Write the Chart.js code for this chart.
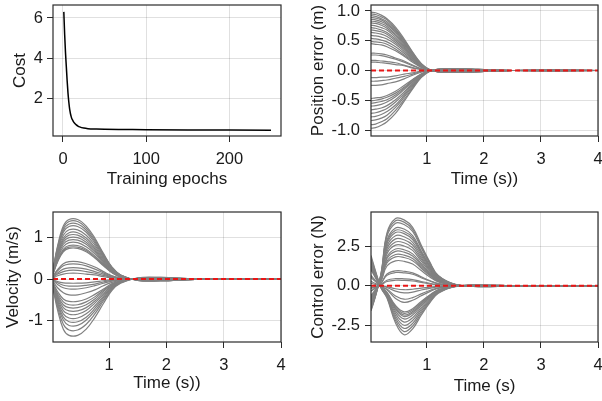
<!DOCTYPE html>
<html>
<head>
<meta charset="utf-8">
<script src="https://cdn.jsdelivr.net/npm/chart.js@4/dist/chart.umd.min.js"></script>
<style>
  html, body { margin: 0; padding: 0; background: #fff; }
  #wrap { position: relative; width: 602px; height: 401px; overflow: hidden; }
  canvas { position: absolute; }
</style>
</head>
<body>
<div id="wrap">
  <canvas id="cCost" width="300" height="200" style="left:0;top:0;width:300px;height:200px"></canvas>
  <canvas id="cPos" width="302" height="200" style="left:300px;top:0;width:302px;height:200px"></canvas>
  <canvas id="cVel" width="300" height="201" style="left:0;top:200px;width:300px;height:201px"></canvas>
  <canvas id="cCtrl" width="302" height="201" style="left:300px;top:200px;width:302px;height:201px"></canvas>
</div>
<script>
// training cost
const epochs = [1, 2, 3, 4, 5, 6, 7, 8, 10, 12, 14, 16, 18, 20, 25, 30, 40, 50, 75, 100, 150, 200, 250];
const cost = [6.3, 5.2, 4.3, 3.6, 2.9, 2.3, 1.85, 1.5, 1.1, 0.92, 0.8, 0.72, 0.66, 0.62, 0.56, 0.53, 0.51, 0.5, 0.49, 0.48, 0.47, 0.465, 0.46];

// sample times (s) shared by the three trajectory panels
const timeS = [0.02, 0.1, 0.2, 0.3, 0.45, 0.6, 0.75, 0.9, 1.05, 1.2, 1.5, 1.9, 2.5, 4.0];

// position error (m), one row per trajectory
const posTraces = [
  [0.98, 0.97, 0.93, 0.87, 0.73, 0.53, 0.31, 0.12, 0.01, -0.02, -0.03, -0.02, 0, 0],
  [0.95, 0.94, 0.90, 0.85, 0.70, 0.51, 0.30, 0.11, 0.01, -0.02, -0.03, -0.02, 0, 0],
  [0.92, 0.91, 0.87, 0.82, 0.68, 0.50, 0.29, 0.11, 0.01, -0.02, -0.03, -0.02, 0, 0],
  [0.89, 0.88, 0.85, 0.79, 0.66, 0.48, 0.28, 0.11, 0.01, -0.02, -0.03, -0.02, 0, 0],
  [0.86, 0.85, 0.82, 0.77, 0.64, 0.46, 0.28, 0.10, 0.01, -0.02, -0.03, -0.02, 0, 0],
  [0.83, 0.82, 0.79, 0.74, 0.61, 0.45, 0.27, 0.10, 0.01, -0.02, -0.03, -0.02, 0, 0],
  [0.80, 0.79, 0.76, 0.71, 0.59, 0.43, 0.26, 0.10, 0.01, -0.02, -0.03, -0.02, 0, 0],
  [0.76, 0.75, 0.72, 0.68, 0.56, 0.41, 0.24, 0.09, 0.01, -0.02, -0.03, -0.02, 0, 0],
  [0.72, 0.71, 0.68, 0.64, 0.53, 0.39, 0.23, 0.09, 0.01, -0.02, -0.03, -0.01, 0, 0],
  [0.68, 0.67, 0.65, 0.61, 0.50, 0.37, 0.22, 0.08, 0.01, -0.02, -0.02, -0.01, 0, 0],
  [0.64, 0.63, 0.61, 0.57, 0.47, 0.35, 0.20, 0.08, 0.01, -0.02, -0.02, -0.01, 0, 0],
  [0.59, 0.58, 0.56, 0.53, 0.44, 0.32, 0.19, 0.07, 0.01, -0.01, -0.02, -0.01, 0, 0],
  [0.54, 0.53, 0.51, 0.48, 0.40, 0.29, 0.17, 0.06, 0.01, -0.01, -0.02, -0.01, 0, 0],
  [0.49, 0.48, 0.47, 0.44, 0.36, 0.26, 0.16, 0.06, 0, -0.01, -0.02, -0.01, 0, 0],
  [0.45, 0.44, 0.43, 0.40, 0.33, 0.24, 0.14, 0.05, 0, -0.01, -0.02, -0.01, 0, 0],
  [0.29, 0.29, 0.28, 0.26, 0.21, 0.16, 0.09, 0.03, 0, -0.01, -0.01, -0.01, 0, 0],
  [0.26, 0.26, 0.25, 0.23, 0.19, 0.14, 0.08, 0.03, 0, -0.01, -0.01, -0.01, 0, 0],
  [0.17, 0.17, 0.16, 0.15, 0.13, 0.09, 0.05, 0.02, 0, 0, -0.01, 0, 0, 0],
  [0.14, 0.14, 0.13, 0.12, 0.10, 0.08, 0.04, 0.02, 0, 0, 0, 0, 0, 0],
  [-0.12, -0.12, -0.11, -0.11, -0.09, -0.06, -0.04, -0.01, 0, 0, 0, 0, 0, 0],
  [-0.18, -0.18, -0.17, -0.16, -0.13, -0.10, -0.06, -0.02, 0, 0, 0.01, 0, 0, 0],
  [-0.25, -0.25, -0.24, -0.22, -0.19, -0.14, -0.08, -0.03, 0, 0.01, 0.01, 0.01, 0, 0],
  [-0.47, -0.46, -0.45, -0.42, -0.35, -0.25, -0.15, -0.06, 0, 0.01, 0.02, 0.01, 0, 0],
  [-0.51, -0.50, -0.48, -0.45, -0.38, -0.28, -0.16, -0.06, -0.01, 0.01, 0.02, 0.01, 0, 0],
  [-0.55, -0.54, -0.52, -0.49, -0.41, -0.30, -0.18, -0.07, -0.01, 0.01, 0.02, 0.01, 0, 0],
  [-0.60, -0.59, -0.57, -0.53, -0.44, -0.32, -0.19, -0.07, -0.01, 0.02, 0.02, 0.01, 0, 0],
  [-0.66, -0.65, -0.63, -0.59, -0.49, -0.36, -0.21, -0.08, -0.01, 0.02, 0.02, 0.01, 0, 0],
  [-0.72, -0.71, -0.68, -0.64, -0.53, -0.39, -0.23, -0.09, -0.01, 0.02, 0.03, 0.01, 0, 0],
  [-0.78, -0.77, -0.74, -0.69, -0.58, -0.42, -0.25, -0.09, -0.01, 0.02, 0.03, 0.02, 0, 0],
  [-0.84, -0.83, -0.80, -0.75, -0.62, -0.45, -0.27, -0.10, -0.01, 0.02, 0.03, 0.02, 0, 0],
  [-0.91, -0.90, -0.86, -0.81, -0.67, -0.49, -0.29, -0.11, -0.01, 0.02, 0.03, 0.02, 0, 0],
  [-0.97, -0.96, -0.92, -0.86, -0.72, -0.52, -0.31, -0.12, -0.01, 0.02, 0.03, 0.02, 0, 0]
];

// velocity (m/s)
const velTraces = [
  [0.23, 0.80, 1.28, 1.44, 1.44, 1.28, 0.99, 0.62, 0.29, 0.10, -0.03, -0.04, -0.01, 0],
  [0.22, 0.77, 1.23, 1.39, 1.39, 1.23, 0.95, 0.60, 0.28, 0.10, -0.03, -0.04, -0.01, 0],
  [0.21, 0.74, 1.18, 1.33, 1.33, 1.18, 0.91, 0.58, 0.27, 0.09, -0.03, -0.04, -0.01, 0],
  [0.20, 0.70, 1.13, 1.27, 1.27, 1.13, 0.87, 0.55, 0.26, 0.09, -0.03, -0.04, -0.01, 0],
  [0.19, 0.66, 1.06, 1.19, 1.19, 1.06, 0.82, 0.52, 0.24, 0.08, -0.02, -0.04, -0.01, 0],
  [0.18, 0.62, 0.99, 1.12, 1.12, 0.99, 0.77, 0.49, 0.23, 0.08, -0.02, -0.03, -0.01, 0],
  [0.17, 0.59, 0.94, 1.06, 1.06, 0.94, 0.73, 0.46, 0.21, 0.07, -0.02, -0.03, -0.01, 0],
  [0.16, 0.56, 0.89, 1.00, 1.00, 0.89, 0.69, 0.43, 0.20, 0.07, -0.02, -0.03, -0.01, 0],
  [0.15, 0.52, 0.84, 0.94, 0.94, 0.84, 0.65, 0.41, 0.19, 0.07, -0.02, -0.03, 0, 0],
  [0.14, 0.49, 0.78, 0.88, 0.88, 0.78, 0.61, 0.38, 0.18, 0.06, -0.02, -0.03, 0, 0],
  [0.13, 0.45, 0.72, 0.81, 0.81, 0.72, 0.56, 0.35, 0.16, 0.06, -0.02, -0.02, 0, 0],
  [0.12, 0.43, 0.69, 0.77, 0.77, 0.69, 0.53, 0.34, 0.16, 0.05, -0.02, -0.02, 0, 0],
  [0.12, 0.41, 0.66, 0.74, 0.74, 0.66, 0.51, 0.32, 0.15, 0.05, -0.02, -0.02, 0, 0],
  [0.07, 0.23, 0.37, 0.42, 0.42, 0.37, 0.29, 0.18, 0.08, 0.03, -0.01, -0.01, 0, 0],
  [0.06, 0.20, 0.32, 0.36, 0.36, 0.32, 0.24, 0.15, 0.07, 0.03, -0.01, -0.01, 0, 0],
  [0.04, 0.15, 0.24, 0.27, 0.27, 0.24, 0.18, 0.12, 0.05, 0.02, -0.01, -0.01, 0, 0],
  [0.03, 0.12, 0.18, 0.21, 0.21, 0.18, 0.14, 0.09, 0.04, 0.01, 0, -0.01, 0, 0],
  [0.02, 0.08, 0.12, 0.14, 0.14, 0.12, 0.10, 0.06, 0.03, 0.01, 0, 0, 0, 0],
  [-0.02, -0.06, -0.09, -0.10, -0.10, -0.09, -0.07, -0.04, -0.02, -0.01, 0, 0, 0, 0],
  [-0.03, -0.09, -0.15, -0.17, -0.17, -0.15, -0.12, -0.07, -0.03, -0.01, 0, 0.01, 0, 0],
  [-0.04, -0.13, -0.21, -0.24, -0.24, -0.21, -0.16, -0.10, -0.05, -0.02, 0, 0.01, 0, 0],
  [-0.06, -0.21, -0.33, -0.38, -0.38, -0.33, -0.26, -0.16, -0.08, -0.03, 0.01, 0.01, 0, 0],
  [-0.09, -0.30, -0.48, -0.54, -0.54, -0.48, -0.37, -0.24, -0.11, -0.04, 0.01, 0.02, 0, 0],
  [-0.10, -0.35, -0.55, -0.62, -0.62, -0.55, -0.43, -0.27, -0.13, -0.04, 0.01, 0.02, 0, 0],
  [-0.11, -0.39, -0.62, -0.69, -0.69, -0.62, -0.48, -0.30, -0.14, -0.05, 0.01, 0.02, 0, 0],
  [-0.12, -0.43, -0.69, -0.77, -0.77, -0.69, -0.53, -0.34, -0.16, -0.05, 0.02, 0.02, 0, 0],
  [-0.14, -0.47, -0.76, -0.85, -0.85, -0.76, -0.58, -0.37, -0.17, -0.06, 0.02, 0.03, 0, 0],
  [-0.15, -0.52, -0.84, -0.94, -0.94, -0.84, -0.65, -0.41, -0.19, -0.07, 0.02, 0.03, 0, 0],
  [-0.17, -0.57, -0.92, -1.03, -1.03, -0.92, -0.71, -0.45, -0.21, -0.07, 0.02, 0.03, 0.01, 0],
  [-0.18, -0.62, -0.99, -1.12, -1.12, -0.99, -0.77, -0.49, -0.23, -0.08, 0.02, 0.03, 0.01, 0],
  [-0.20, -0.68, -1.09, -1.23, -1.23, -1.09, -0.84, -0.53, -0.25, -0.09, 0.02, 0.04, 0.01, 0],
  [-0.22, -0.75, -1.21, -1.36, -1.36, -1.21, -0.93, -0.59, -0.27, -0.10, 0.03, 0.04, 0.01, 0]
];

// control error (N)
const ctrlTraces = [
  [-1.59, -0.65, 0.86, 3.35, 4.26, 4.17, 3.70, 2.58, 1.51, 0.65, 0.09, -0.05, -0.01, 0],
  [-1.54, -0.62, 0.83, 3.24, 4.11, 4.03, 3.57, 2.49, 1.45, 0.62, 0.08, -0.05, -0.01, 0],
  [-1.48, -0.60, 0.80, 3.12, 3.96, 3.88, 3.44, 2.40, 1.40, 0.60, 0.08, -0.05, -0.01, 0],
  [-1.37, -0.56, 0.74, 2.89, 3.66, 3.59, 3.18, 2.22, 1.30, 0.56, 0.07, -0.04, -0.01, 0],
  [-1.31, -0.53, 0.71, 2.77, 3.51, 3.44, 3.05, 2.13, 1.24, 0.53, 0.07, -0.04, -0.01, 0],
  [-1.26, -0.51, 0.68, 2.65, 3.37, 3.30, 2.92, 2.04, 1.19, 0.51, 0.07, -0.04, -0.01, 0],
  [-1.18, -0.48, 0.64, 2.50, 3.17, 3.10, 2.75, 1.92, 1.12, 0.48, 0.06, -0.04, -0.01, 0],
  [-1.11, -0.45, 0.60, 2.34, 2.97, 2.91, 2.58, 1.80, 1.05, 0.45, 0.06, -0.04, -0.01, 0],
  [-1.04, -0.42, 0.56, 2.18, 2.77, 2.72, 2.41, 1.68, 0.98, 0.42, 0.06, -0.03, -0.01, 0],
  [-0.96, -0.39, 0.52, 2.03, 2.57, 2.52, 2.24, 1.56, 0.91, 0.39, 0.05, -0.03, -0.01, 0],
  [-0.87, -0.35, 0.47, 1.83, 2.33, 2.28, 2.02, 1.41, 0.82, 0.35, 0.05, -0.03, 0, 0],
  [-0.81, -0.33, 0.44, 1.72, 2.18, 2.13, 1.89, 1.32, 0.77, 0.33, 0.04, -0.03, 0, 0],
  [-0.74, -0.30, 0.40, 1.56, 1.98, 1.94, 1.72, 1.20, 0.70, 0.30, 0.04, -0.02, 0, 0],
  [-0.68, -0.28, 0.37, 1.44, 1.83, 1.79, 1.59, 1.11, 0.65, 0.28, 0.04, -0.02, 0, 0],
  [-0.59, -0.24, 0.32, 1.25, 1.58, 1.55, 1.38, 0.96, 0.56, 0.24, 0.03, -0.02, 0, 0],
  [-0.35, -0.14, 0.19, 0.74, 0.94, 0.92, 0.82, 0.57, 0.33, 0.14, 0.02, -0.01, 0, 0],
  [-0.31, -0.13, 0.17, 0.66, 0.84, 0.82, 0.73, 0.51, 0.30, 0.13, 0.02, -0.01, 0, 0],
  [-0.17, -0.07, 0.09, 0.35, 0.45, 0.44, 0.39, 0.27, 0.16, 0.07, 0.01, -0.01, 0, 0],
  [-0.13, -0.05, 0.07, 0.27, 0.35, 0.34, 0.30, 0.21, 0.12, 0.05, 0.01, 0, 0, 0],
  [0.16, 0.08, -0.01, -0.06, -0.19, -0.25, -0.22, -0.15, -0.09, -0.04, 0, 0, 0, 0],
  [0.28, 0.14, -0.02, -0.11, -0.34, -0.45, -0.40, -0.27, -0.16, -0.07, -0.01, 0, 0, 0],
  [0.53, 0.26, -0.04, -0.21, -0.65, -0.85, -0.75, -0.51, -0.30, -0.13, -0.01, 0.01, 0, 0],
  [0.65, 0.32, -0.05, -0.26, -0.80, -1.05, -0.92, -0.63, -0.37, -0.16, -0.02, 0.01, 0, 0],
  [1.02, 0.50, -0.08, -0.41, -1.25, -1.65, -1.45, -0.99, -0.58, -0.25, -0.02, 0.02, 0, 0],
  [1.09, 0.53, -0.09, -0.44, -1.33, -1.75, -1.54, -1.05, -0.61, -0.26, -0.03, 0.02, 0, 0],
  [1.15, 0.56, -0.09, -0.46, -1.41, -1.85, -1.63, -1.11, -0.65, -0.28, -0.03, 0.02, 0, 0],
  [1.21, 0.59, -0.10, -0.49, -1.48, -1.95, -1.72, -1.17, -0.68, -0.29, -0.03, 0.02, 0, 0],
  [1.30, 0.63, -0.11, -0.53, -1.60, -2.10, -1.85, -1.26, -0.74, -0.32, -0.03, 0.02, 0, 0],
  [1.43, 0.69, -0.12, -0.58, -1.75, -2.30, -2.02, -1.38, -0.81, -0.35, -0.03, 0.02, 0, 0],
  [1.55, 0.75, -0.13, -0.63, -1.90, -2.50, -2.20, -1.50, -0.88, -0.38, -0.04, 0.03, 0.01, 0],
  [1.67, 0.81, -0.14, -0.68, -2.05, -2.70, -2.38, -1.62, -0.95, -0.41, -0.04, 0.03, 0.01, 0],
  [1.80, 0.87, -0.15, -0.73, -2.20, -2.90, -2.55, -1.74, -1.02, -0.44, -0.04, 0.03, 0.01, 0],
  [1.92, 0.93, -0.16, -0.78, -2.36, -3.10, -2.73, -1.86, -1.09, -0.47, -0.05, 0.03, 0.01, 0]
];

// tick values
const epochTicks = [0, 100, 200];
const costTicks = [2, 4, 6];
const timeTicks = [1, 2, 3, 4];
const posTicks = [-1, -0.5, 0, 0.5, 1];
const velTicks = [-1, 0, 1];
const ctrlTicks = [-2.5, 0, 2.5];

const FONT = "'Liberation Sans', Arial, Helvetica, sans-serif";
Chart.defaults.font.family = FONT;
Chart.defaults.font.size = 16.5;
Chart.defaults.color = '#1a1a1a';

const GRAY = 'rgb(128,128,128)';
const RED = 'rgb(232,22,22)';

// full box around the plot area (Chart.js only draws left/bottom borders)
const framePlugin = {
  id: 'frame',
  afterDatasetsDraw(chart) {
    const { ctx, chartArea: a } = chart;
    ctx.save();
    ctx.strokeStyle = '#2b2b2b';
    ctx.lineWidth = 1.2;
    ctx.strokeRect(a.left, a.top, a.right - a.left, a.bottom - a.top);
    ctx.restore();
  }
};

function traceSets(rows) {
  return rows.map(r => ({
    data: r.map((y, i) => ({ x: timeS[i], y: y })),
    borderColor: GRAY,
    borderWidth: 1.2,
    tension: 0.4,
    pointRadius: 0
  }));
}

function zeroLine() {
  return {
    data: [{ x: timeS[0], y: 0 }, { x: timeS[timeS.length - 1], y: 0 }],
    borderColor: RED,
    borderWidth: 2,
    borderDash: [5, 3],
    pointRadius: 0
  };
}

function panel(id, p) {
  const scale = (a, isX) => ({
    type: 'linear',
    min: a.min,
    max: a.max,
    afterBuildTicks: s => { s.ticks = a.ticks.map(v => ({ value: v })); },
    afterFit: s => {
      // fixed axis sizes, no extra room for overhanging labels
      if (isX) { s.height = p.xH; s.paddingLeft = 0; s.paddingRight = 0; }
      else { s.width = p.yW; s.paddingTop = 0; s.paddingBottom = 0; }
    },
    ticks: { autoSkip: false, maxRotation: 0, padding: a.tickPad, color: '#1a1a1a', callback: a.fmt },
    grid: { color: 'rgba(0,0,0,0.12)', lineWidth: 1, tickColor: '#2b2b2b', tickLength: 6, tickWidth: 1 },
    border: { display: false },
    title: {
      display: true, text: a.title, color: '#1a1a1a', font: { size: 17 },
      padding: isX ? { top: 0, bottom: a.titlePad } : { top: a.titlePad, bottom: 0 }
    }
  });
  new Chart(document.getElementById(id), {
    type: 'line',
    data: { datasets: p.datasets },
    options: {
      responsive: false,
      animation: false,
      layout: { padding: p.pad },
      plugins: { legend: { display: false }, tooltip: { enabled: false } },
      scales: { x: scale(p.x, true), y: scale(p.y, false) }
    },
    plugins: [framePlugin]
  });
}

const timeAxis = (title, pad) => ({
  min: 0.02, max: 4, ticks: timeTicks, fmt: v => String(v),
  title: title, titlePad: pad, tickPad: 8
});

panel('cCost', {
  datasets: [{
    data: epochs.map((e, i) => ({ x: e, y: cost[i] })),
    borderColor: '#000', borderWidth: 1.5, cubicInterpolationMode: 'monotone', pointRadius: 0
  }],
  x: { min: -12, max: 262, ticks: epochTicks, fmt: v => String(v), title: 'Training epochs', titlePad: 10, tickPad: 8 },
  y: { min: 0.17, max: 6.64, ticks: costTicks, fmt: v => String(v), title: 'Cost', titlePad: 10, tickPad: 4 },
  yW: 53, xH: 64, pad: { left: 0, top: 5, right: 19, bottom: 0 }
});

panel('cPos', {
  datasets: [zeroLine()].concat(traceSets(posTraces)),
  x: timeAxis('Time (s))', 10),
  y: { min: -1.1, max: 1.1, ticks: posTicks, fmt: v => v.toFixed(1), title: 'Position error (m)', titlePad: 8, tickPad: 5 },
  yW: 71, xH: 64, pad: { left: 0, top: 5, right: 4, bottom: 0 }
});

panel('cVel', {
  datasets: [zeroLine()].concat(traceSets(velTraces)),
  x: timeAxis('Time (s))', 7),
  y: { min: -1.52, max: 1.62, ticks: velTicks, fmt: v => String(v), title: 'Velocity (m/s)', titlePad: 3, tickPad: 4 },
  yW: 53, xH: 59, pad: { left: 0, top: 12, right: 19, bottom: 0 }
});

panel('cCtrl', {
  datasets: [zeroLine()].concat(traceSets(ctrlTraces)),
  x: timeAxis('Time (s)', 4),
  y: { min: -3.56, max: 4.67, ticks: ctrlTicks, fmt: v => v.toFixed(1), title: 'Control error (N)', titlePad: 8, tickPad: 5 },
  yW: 71, xH: 59, pad: { left: 0, top: 12, right: 4, bottom: 0 }
});
</script>
</body>
</html>
